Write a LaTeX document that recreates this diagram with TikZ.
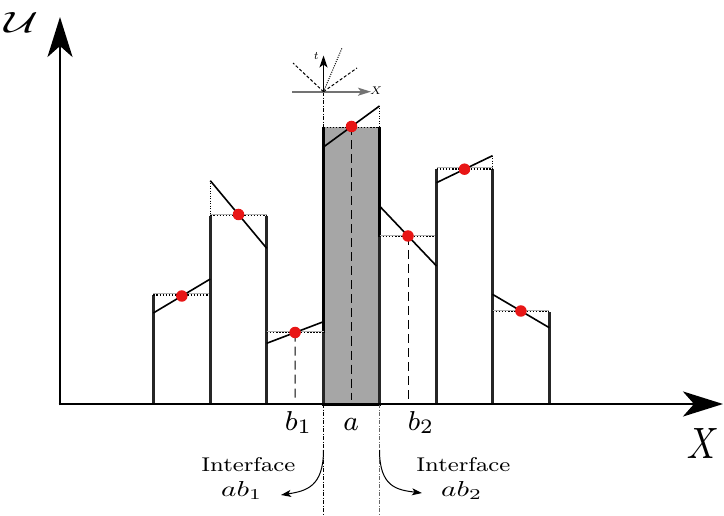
\RequirePackage{fix-cm}
\documentclass[tikz,border=0pt]{standalone}
\usetikzlibrary{arrows.meta,calc}
\definecolor{dotred}{RGB}{232,22,22}
\definecolor{barfill}{RGB}{166,166,166}
\tikzset{
  bigarrow/.style={line width=2.6pt,-{Stealth[length=40pt,width=25pt,inset=11pt]}},
  barside/.style={draw=black!85,line width=2.7pt},
  grayside/.style={draw=black,line width=3pt},
  topgray/.style={draw=black!30,line width=0.9pt},
  topdot/.style={draw=black,line width=1.5pt,dash pattern=on 1.5pt off 1.6pt},
  slopeline/.style={draw=black,line width=1.6pt},
  reddot/.style={circle,fill=dotred,inner sep=0pt,minimum size=11.5pt},
  dropline/.style={draw=black,line width=1pt,dash pattern=on 9pt off 5pt},
  extdot/.style={draw=black,line width=0.9pt,dash pattern=on 1pt off 1.5pt},
  dashdot/.style={line width=0.8pt,dash pattern=on 4pt off 1.6pt on 0.8pt off 1.6pt},
  curvearrow/.style={draw=black,line width=1pt,-{Stealth[length=10pt,width=7pt,inset=2.5pt]}},
  lbl/.style={inner sep=0pt,anchor=base},
}
\newcommand{\fitlab}[4]{\resizebox{#1}{#2}{\fontsize{#3}{#3}\selectfont #4}}
\begin{document}
\begin{tikzpicture}[x=1pt,y=-1pt]
\useasboundingbox (0,0) rectangle (724,516);

% bar edge x positions
\def\xa{153.3}\def\xb{210.3}\def\xc{266.7}\def\xd{323.5}
\def\xe{379.5}\def\xf{436.5}\def\xg{492.5}\def\xh{549.3}
\def\ax{404}

% gray bar (cell a)
\fill[barfill] (\xd,127.5) rectangle (\xe,\ax);
\path[grayside] (\xd,127.5) -- (\xd,\ax) -- (\xe,\ax) -- (\xe,127.5);
\path[topdot] (\xd,127.5) -- (\xe,127.5);

% white bars: sides
\foreach \l/\r/\t in {\xa/\xb/295,\xb/\xc/215.7,\xc/\xd/332.7,\xe/\xf/236.7,\xf/\xg/169,\xg/\xh/311.7}{
  \path[barside] (\l,\t) -- (\l,\ax) -- (\r,\ax) -- (\r,\t);
  \path[topgray] (\l,\t-1.6) -- (\r,\t-1.6);
  \path[topdot] (\l,\t) -- (\r,\t);
}

% vertical dotted extensions
\path[extdot] (\xb,180.7) -- (\xb,215.7);
\path[extdot] (\xe,106) -- (\xe,127.5);
\path[extdot] (\xg,155.7) -- (\xg,169);

% slope lines
\coordinate (s1a) at (\xa,313);   \coordinate (s1b) at (\xb,279);
\coordinate (s2a) at (\xb,180.7); \coordinate (s2b) at (\xc,248.3);
\coordinate (s3a) at (\xc,343.3); \coordinate (s3b) at (\xd,321.7);
\coordinate (s4a) at (\xd,147);   \coordinate (s4b) at (\xe,106);
\coordinate (s5a) at (\xe,206);   \coordinate (s5b) at (\xf,266);
\coordinate (s6a) at (\xf,182.7); \coordinate (s6b) at (\xg,155.7);
\coordinate (s7a) at (\xg,294.3); \coordinate (s7b) at (\xh,327.7);
\foreach \i in {1,...,7}{
  \path[slopeline] (s\i a) -- (s\i b);
}

% drop lines (dashed) from cell centres
\coordinate (d3) at (295.1,400);
\coordinate (d4) at (351.5,400);
\coordinate (d5) at (408,400);
\path[dropline] ($(s3a)!0.5!(s3b)$) -- (d3);
\path[dropline] ($(s4a)!0.5!(s4b)$) -- (d4);
\path[dropline] ($(s5a)!0.5!(s5b)$) -- (d5);

% red dots
\foreach \i in {1,...,7}{
  \node[reddot] (p\i) at ($(s\i a)!0.5!(s\i b)$) {};
}

% interface lines (dash-dot)
\coordinate (ia) at (\xd,92);
\coordinate (ib) at (\xd,127.5);
\coordinate (ic) at (\xd,\ax);
\coordinate (id) at (\xd,514);
\coordinate (ie) at (\xe,\ax);
\coordinate (if) at (\xe,514);
\draw[dashdot,black] (ia) -- (ib);
\draw[dashdot,black] (ic) -- (id);
\draw[dashdot,black!60] (ie) -- (if);

% main axes
\coordinate (O) at (60,\ax);
\coordinate (Ytip) at (60,17);
\coordinate (Xtip) at (723,\ax);
\draw[bigarrow] (60,\ax+1.3) -- (Ytip);
\draw[bigarrow] (58.7,\ax) -- (Xtip);

\node[lbl] (U) at (22,33) {\fitlab{34pt}{20pt}{10}{$\mathcal{U}$}};
\node[lbl] (X) at (703,458) {\fitlab{32pt}{30pt}{10}{$X$}};

% small characteristics sketch
\coordinate (o) at (\xd,91.7);
\coordinate (ol) at (292,91.7);
\coordinate (or) at (371,91.7);
\coordinate (ot) at (\xd,55.5);
\coordinate (c1) at (293,63);
\coordinate (c2) at (357,68);
\coordinate (c3) at (342,48);
\draw[black!55,line width=1.8pt,-{Stealth[length=13pt,width=8pt,inset=3pt]}] (ol) -- (or);
\draw[black,line width=1.4pt,-{Stealth[length=12pt,width=8pt,inset=3pt]}] (o) -- (ot);
\draw[black,line width=1pt,dash pattern=on 3pt off 2pt] (o) -- (c1);
\draw[black,line width=1pt,dash pattern=on 3pt off 2pt] (o) -- (c2);
\draw[black,line width=1pt,dash pattern=on 1pt off 1.3pt] (o) -- (c3);
\node[lbl] (tl) at (316.2,60) {\fitlab{4.8pt}{7pt}{7}{$t$}};
\node[lbl] (xl) at (376,94.3) {\fitlab{12pt}{7.6pt}{7}{$X$}};

% cell labels
\node[lbl] (b1) at (298.5,430) {\fitlab{27.5pt}{19pt}{8}{$b_1$}};
\node[lbl] (aa) at (351,430) {\fitlab{15.5pt}{12pt}{8}{$a$}};
\node[lbl] (b2) at (421,430) {\fitlab{26.5pt}{19pt}{8}{$b_2$}};

% interface labels
\node[lbl] (i1) at (248.3,471.2) {\fitlab{94pt}{14pt}{8}{Interface}};
\node[lbl] (i2) at (463.3,471.2) {\fitlab{94pt}{14pt}{8}{Interface}};
\node[lbl] (ab1) at (241.7,496.7) {\fitlab{41pt}{15pt}{10}{$ab_1$}};
\node[lbl] (ab2) at (461.7,496.7) {\fitlab{41pt}{15pt}{10}{$ab_2$}};

% curved arrows
\coordinate (q1) at (\xd,450);
\coordinate (q2) at (\xe,450);
\coordinate (r1) at (281,495);
\coordinate (r2) at (422,493);
\draw[curvearrow] (q1) .. controls (\xd,487) and (306,491) .. (r1);
\draw[curvearrow] (q2) .. controls (\xe,487) and (397,490) .. (r2);
\end{tikzpicture}
\end{document}
